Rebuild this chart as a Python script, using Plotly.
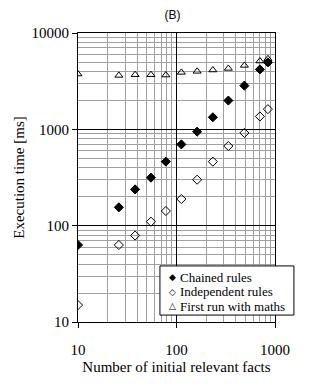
import plotly.graph_objects as go

facts = [10, 26, 38, 55, 78, 112, 162, 234, 336, 489, 703, 847]
chained = [63, 155, 238, 315, 462, 698, 946, 1335, 1990, 2840, 4190, 4950]
independent = [15, 63, 79, 110, 142, 189, 300, 462, 671, 917, 1360, 1620]
first_run = [3750, 3630, 3690, 3690, 3660, 3900, 4000, 4130, 4290, 4610, 5120, 5400]

series_names = ["Chained rules", "Independent rules", "First run with maths"]
legend_symbols = ["\u25c6", "\u25c7", "\u25b3"]

serif = "Liberation Serif"

fig = go.Figure()
fig.add_trace(go.Scatter(x=facts, y=chained, mode="markers", name=series_names[0],
                         marker=dict(symbol="diamond", size=7, color="black",
                                     line=dict(color="black", width=1))))
fig.add_trace(go.Scatter(x=facts, y=independent, mode="markers", name=series_names[1],
                         marker=dict(symbol="diamond-open", size=7, color="black",
                                     line=dict(color="black", width=1))))
fig.add_trace(go.Scatter(x=facts, y=first_run, mode="markers", name=series_names[2],
                         marker=dict(symbol="triangle-up-open", size=7, color="black",
                                     line=dict(color="black", width=1))))

fig.update_layout(
    width=311, height=385,
    margin=dict(l=78, r=36, t=33, b=63),
    paper_bgcolor="white", plot_bgcolor="white",
    font=dict(family=serif, size=14, color="black"),
    title=dict(text="(B)", x=0.555, xanchor="center", y=0.962, yanchor="middle",
               font=dict(family="Liberation Sans", size=12, color="black")),
    showlegend=False,
)

# legend box drawn as shape + text annotations (compact like reference)
fig.add_shape(type="rect", xref="paper", yref="paper", x0=0.416, x1=1.096,
              y0=0.024, y1=0.194, line=dict(color="black", width=1),
              fillcolor="white", layer="above")
row_y = [0.154, 0.104, 0.054]
for name, sym, yy in zip(series_names, legend_symbols, row_y):
    fig.add_annotation(xref="paper", yref="paper", x=0.515, y=yy, text=name,
                       showarrow=False, xanchor="left", yanchor="middle",
                       borderpad=0,
                       font=dict(family=serif, size=13, color="black"))
    fig.add_annotation(xref="paper", yref="paper", x=0.479, y=yy, text=sym,
                       showarrow=False, xanchor="center", yanchor="middle",
                       borderpad=0,
                       font=dict(family="DejaVu Sans", size=9, color="black"))

fig.update_xaxes(type="log", range=[1, 3], showline=True, linecolor="black", linewidth=1,
                 mirror=True,
                 tickvals=[10, 100, 1000], ticktext=["10", "100", "1000"],
                 ticks="outside", ticklen=5, tickcolor="black",
                 ticklabelstandoff=9, tickfont=dict(size=15),
                 gridcolor="black", gridwidth=1,
                 minor=dict(tickvals=[v * m for v in [10, 100] for m in range(2, 10)],
                            showgrid=True, gridcolor="#a0a0a0", gridwidth=1, ticks=""),
                 title=dict(text="Number of initial relevant facts", standoff=4,
                            font=dict(family=serif, size=15)),
                 zeroline=False)
fig.update_yaxes(type="log", range=[1, 4], showline=True, linecolor="black", linewidth=1,
                 mirror=True,
                 tickvals=[10, 100, 1000, 10000], ticktext=["10", "100", "1000", "10000"],
                 ticks="outside", ticklen=5, tickcolor="black", tickfont=dict(size=15),
                 gridcolor="black", gridwidth=1,
                 minor=dict(tickvals=[v * m for v in [10, 100, 1000] for m in range(2, 10)],
                            showgrid=True, gridcolor="#a0a0a0", gridwidth=1, ticks=""),
                 title=dict(text="Execution time [ms]", standoff=3,
                            font=dict(family=serif, size=15)),
                 zeroline=False)

fig.write_html("out.html")
